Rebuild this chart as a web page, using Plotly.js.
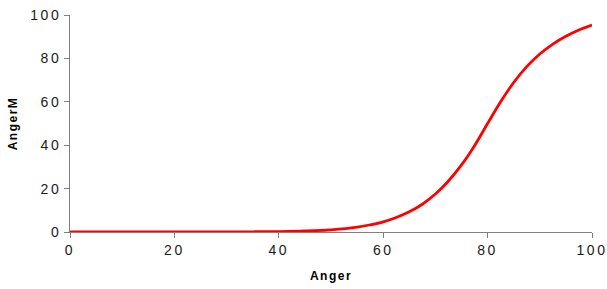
<!DOCTYPE html>
<html>
<head>
<meta charset="utf-8">
<script src="https://cdn.plot.ly/plotly-3.0.1.min.js"></script>
<style>
html,body{margin:0;padding:0;background:#fff;}
#chart{width:607px;height:289px;}
#chart .xtick text, #chart .ytick text{letter-spacing:2.5px;}
#chart .xtitle, #chart .ytitle{letter-spacing:1.5px;}
</style>
</head>
<body>
<div id="chart"></div>
<script>
const anger = [0, 5, 10, 15, 20, 25, 30, 35, 40, 45, 50, 55, 57.5, 60, 62.5, 65, 67.5, 70, 72.5, 75, 77.5, 80, 82.5, 85, 87.5, 90, 92.5, 95, 97.5, 100];
const angerM = [0, 0, 0, 0, 0, 0, 0.05, 0.1, 0.2, 0.45, 1.0, 2.2, 3.3, 4.7, 6.7, 9.3, 12.8, 17.5, 23.5, 30.9, 39.8, 50, 60.0, 68.9, 76.2, 82.0, 86.6, 90.2, 93.1, 95.4];
const xTicks = [0, 20, 40, 60, 80, 100];
const yTicks = [0, 20, 40, 60, 80, 100];

const trace = {
  x: anger, y: angerM, type: 'scatter', mode: 'lines',
  line: {color: '#ff0000', width: 2.8, shape: 'spline', smoothing: 1},
  hoverinfo: 'none'
};
const axisCommon = {
  showgrid: false, zeroline: false, showline: true, linecolor: '#808080', linewidth: 1,
  ticks: 'outside', ticklen: 5, tickcolor: '#808080', tickwidth: 1,
  tickfont: {family: 'Liberation Sans, Arial, sans-serif', size: 14, color: '#1a1a1a'}
};
const layout = {
  width: 607, height: 289,
  margin: {l: 70, r: 15, t: 15, b: 57},
  paper_bgcolor: '#fff', plot_bgcolor: '#fff',
  showlegend: false,
  xaxis: Object.assign({}, axisCommon, {
    range: [0, 100], tickvals: xTicks, ticktext: xTicks.map(String),
    title: {text: 'Anger', font: {family: 'Liberation Sans, Arial, sans-serif', size: 12, color: '#000', weight: 'bold'}, standoff: 14}
  }),
  yaxis: Object.assign({}, axisCommon, {
    range: [0, 100], tickvals: yTicks, ticktext: yTicks.map(String),
    title: {text: 'AngerM', font: {family: 'Liberation Sans, Arial, sans-serif', size: 12, color: '#000', weight: 'bold'}, standoff: 17}
  })
};
Plotly.newPlot('chart', [trace], layout, {staticPlot: true, displayModeBar: false});
</script>
</body>
</html>
